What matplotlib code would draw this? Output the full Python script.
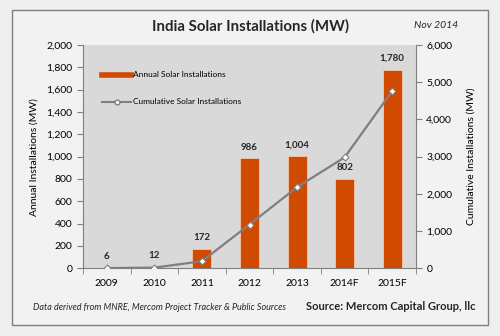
import matplotlib.pyplot as plt
from matplotlib.patches import Rectangle
from matplotlib.lines import Line2D
from matplotlib.ticker import FuncFormatter, MultipleLocator

plt.rcParams['font.family'] = ['Lato', 'DejaVu Sans']

years = ["2009", "2010", "2011", "2012", "2013", "2014F", "2015F"]
annual = [6, 12, 172, 986, 1004, 802, 1780]
cumulative = [6, 18, 190, 1176, 2180, 2982, 4762]

bar_color = "#d04a02"
line_color = "#7f7f7f"

fig = plt.figure(figsize=(5, 3.36), dpi=100, facecolor="#efefef")

# chart frame, kept behind the axes
fig.patches.append(Rectangle((12 / 500, 1 - 325 / 336), 476 / 500, 315 / 336,
                             transform=fig.transFigure, facecolor="#f2f2f2",
                             edgecolor="#7f7f7f", linewidth=1.0, zorder=-5))

ax = fig.add_axes([83 / 500, 1 - 268.3 / 336, 333 / 500, 223.3 / 336])
ax.set_facecolor("#d9d9d9")
x = range(len(years))
ax.bar(x, annual, width=0.4, color=bar_color, edgecolor="#f0c8b0",
       linewidth=0.6, zorder=2)
for xi, v in zip(x, annual):
    ax.text(xi, v + 60, f"{v:,}", ha="center", va="bottom", fontsize=7,
            fontweight="bold", color="#262626", zorder=5)

ax.set_xlim(-0.5, len(years) - 0.5)
ax.set_ylim(0, 2000)
ax.yaxis.set_major_locator(MultipleLocator(200))
ax.yaxis.set_major_formatter(FuncFormatter(lambda v, p: f"{int(v):,}"))
ax.set_xticks(list(x))
ax.set_xticklabels(years)
ax.set_xticks([i + 0.5 for i in range(-1, len(years))], minor=True)
ax.tick_params(axis="x", which="major", length=0, pad=8, labelsize=7.5)
ax.tick_params(axis="x", which="minor", length=4, direction="out",
               color="#7f7f7f")
ax.tick_params(axis="y", length=4, direction="out", color="#7f7f7f",
               labelsize=7.5)
for side in ["top", "right"]:
    ax.spines[side].set_visible(False)
for side in ["left", "bottom"]:
    ax.spines[side].set_color("#7f7f7f")
ax.set_ylabel("Annual Installations (MW)", fontsize=7.5, labelpad=6)

ax2 = ax.twinx()
ax2.plot(list(x), cumulative, color=line_color, linewidth=1.6,
         marker="D", markersize=3.5, markerfacecolor="white",
         markeredgecolor=line_color, markeredgewidth=0.8, zorder=4)
ax2.set_ylim(0, 6000)
ax2.yaxis.set_major_locator(MultipleLocator(1000))
ax2.yaxis.set_major_formatter(FuncFormatter(lambda v, p: f"{int(v):,}"))
ax2.tick_params(axis="y", length=4, direction="out", color="#7f7f7f",
                labelsize=7.5)
for side in ["top", "left", "bottom"]:
    ax2.spines[side].set_visible(False)
ax2.spines["right"].set_color("#7f7f7f")
ax2.set_ylabel("Cumulative Installations (MW)", fontsize=7.5, labelpad=10)

handles = [Line2D([0], [0], color=bar_color, linewidth=4),
           Line2D([0], [0], color=line_color, linewidth=1.5, marker="o",
                  markersize=3.5, markerfacecolor="white")]
ax.legend(handles, ["Annual Solar Installations", "Cumulative Solar Installations"],
          loc="upper left", bbox_to_anchor=(0.035, 0.915), frameon=False,
          fontsize=6, handlelength=3.5, labelspacing=2.4, handletextpad=0.2)

fig.text(0.5, 1 - 26 / 336, "India Solar Installations (MW)", ha="center",
         va="center", fontsize=10.8, fontweight="bold", color="#262626")
fig.text(0.872, 1 - 26 / 336, "Nov 2014", ha="center", va="center",
         fontsize=7.5, style="italic", color="#262626")
fig.text(0.066, 1 - 308 / 336,
         "Data derived from MNRE, Mercom Project Tracker & Public Sources",
         ha="left", va="center", fontsize=6.5, style="italic", color="#262626")
fig.text(0.95, 1 - 307 / 336, "Source: Mercom Capital Group, llc",
         ha="right", va="center", fontsize=8, fontweight="bold",
         color="#262626")

fig.savefig("out.png", dpi=100, facecolor=fig.get_facecolor())
